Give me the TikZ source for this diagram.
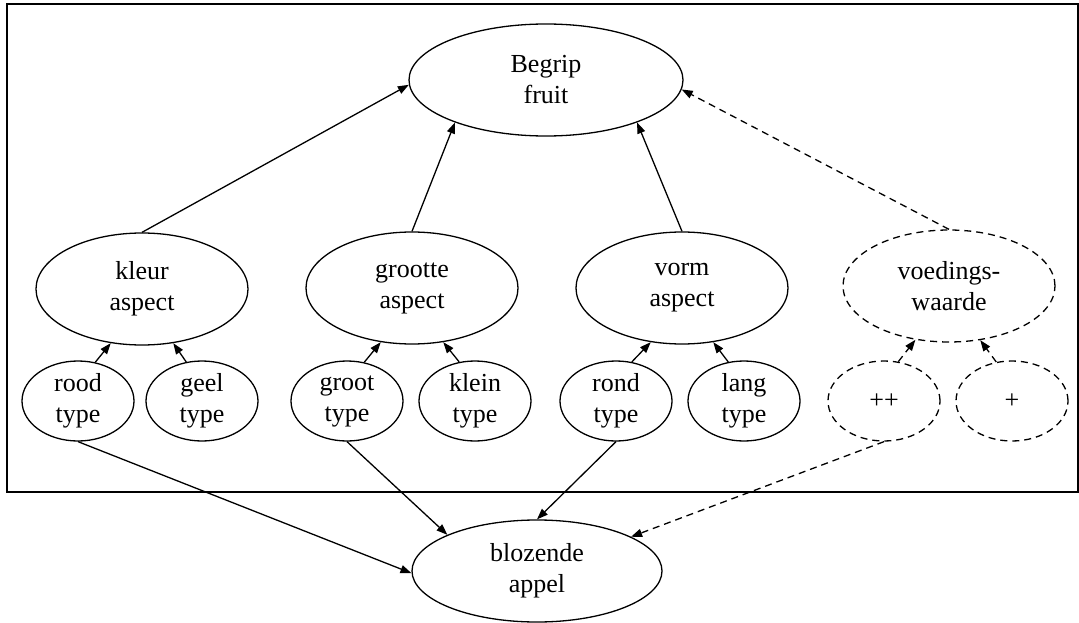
\documentclass[tikz,border=0pt]{standalone}
\usepackage{fontspec}
\setmainfont{Liberation Serif}
\usetikzlibrary{shapes.geometric,arrows.meta}
\begin{document}
\begin{tikzpicture}[x=1pt,y=-1pt,
  every node/.style={font=\fontsize{26}{31}\selectfont, align=center, inner sep=0pt},
  bigell/.style={ellipse, draw, line width=1.3pt, minimum width=212pt, minimum height=112pt},
  smallell/.style={ellipse, draw, line width=1.3pt, minimum width=112pt, minimum height=80pt},
  dashedge/.style={dash pattern=on 7pt off 5pt},
  arr/.style={line width=1.3pt, -{Triangle[length=11pt,width=8pt]}},
  frame/.style={draw, line width=1.3pt}]
\useasboundingbox (0,0) rectangle (1079,623);
\draw[frame] (7,4) rectangle (1078,492);

\node[ellipse, draw, line width=1.3pt, minimum width=274pt, minimum height=112pt] (begrip) at (546,80) {Begrip\\fruit};

\node[bigell] (kleur) at (142,289) {kleur\\aspect};
\node[bigell] (grootte) at (412,288) {grootte\\aspect};
\node[bigell] (vorm) at (682,288) {vorm\\aspect};
\node[bigell, dashedge] (voed) at (949,286) {voedings-\\waarde};

\node[smallell] (rood) at (78,401) {rood\\type};
\node[smallell] (geel) at (202,401) {geel\\type};
\node[smallell] (groot) at (347,401) {groot\\type};
\node[smallell] (klein) at (475,401) {klein\\type};
\node[smallell] (rond) at (616,401) {rond\\type};
\node[smallell] (lang) at (744,401) {lang\\type};
\node[smallell, dashedge] (pp) at (884,401) {++};
\node[smallell, dashedge] (p) at (1012,401) {+};

\node[ellipse, draw, line width=1.3pt, minimum width=250pt, minimum height=102pt] (bloz) at (537,571) {blozende\\appel};

\draw[arr] (kleur.north) -- (begrip.182);
\draw[arr] (grootte.north) -- (begrip.205);
\draw[arr] (vorm.north) -- (begrip.335);
\draw[arr, dashedge] (voed.north) -- (begrip.356);

\draw[arr] (rood.66) -- (kleur.240);
\draw[arr] (geel.112) -- (kleur.300);
\draw[arr] (groot.66) -- (grootte.240);
\draw[arr] (klein.112) -- (grootte.300);
\draw[arr] (rond.68) -- (vorm.240);
\draw[arr] (lang.112) -- (vorm.300);
\draw[arr, dashedge] (pp.70) -- (voed.238);
\draw[arr, dashedge] (p.112) -- (voed.300);

\draw[arr] (rood.south) -- (bloz.181);
\draw[arr] (groot.south) -- (bloz.158);
\draw[arr] (rond.south) -- (bloz.north);
\draw[arr, dashedge] (pp.south) -- (bloz.20);
\end{tikzpicture}
\end{document}
